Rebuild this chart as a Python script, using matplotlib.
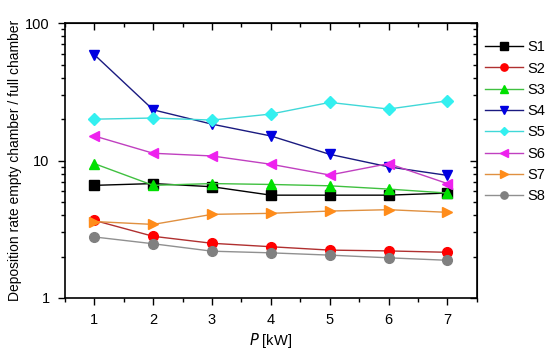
import matplotlib
matplotlib.use('Agg')
import matplotlib.pyplot as plt
from matplotlib.ticker import LogLocator, NullFormatter, MultipleLocator

plt.rcParams['font.family'] = ['Liberation Sans', 'DejaVu Sans']

# 数据：P [kW] 与各组沉积速率比
P = [1, 2, 3, 4, 5, 6, 7]
S1 = [6.6, 6.8, 6.45, 5.6, 5.6, 5.6, 5.8]
S2 = [3.67, 2.81, 2.5, 2.36, 2.23, 2.2, 2.15]
S3 = [9.5, 6.6, 6.8, 6.7, 6.55, 6.2, 5.8]
S4 = [59, 23.4, 18.4, 15.1, 11.1, 9.0, 7.8]
S5 = [20.0, 20.4, 19.7, 21.8, 26.5, 23.7, 27.2]
S6 = [15.1, 11.3, 10.8, 9.4, 7.85, 9.5, 6.8]
S7 = [3.6, 3.43, 4.06, 4.13, 4.29, 4.39, 4.2]
S8 = [2.78, 2.48, 2.19, 2.13, 2.05, 1.96, 1.88]

series = [
    ('S1', S1, 's', '#000000', '#000000'),
    ('S2', S2, 'o', '#ff0000', '#b03030'),
    ('S3', S3, '^', '#00e000', '#40c040'),
    ('S4', S4, 'v', '#0000e0', '#1a1a80'),
    ('S5', S5, 'D', '#33f0f0', '#40d8d8'),
    ('S6', S6, '<', '#ee22ee', '#c040c0'),
    ('S7', S7, '>', '#ff8c1a', '#e09040'),
    ('S8', S8, 'o', '#808080', '#909090'),
]

fig = plt.figure(figsize=(5.5, 3.56), dpi=100)
ax = fig.add_axes([0.118, 0.163, 0.749, 0.772])

for name, vals, mk, mc, lc in series:
    ms = 6 if mk == 'D' else 7
    ax.plot(P, vals, color=lc, marker=mk, markerfacecolor=mc, markeredgecolor=mc,
            markersize=ms, linewidth=1.0, label=name)

ax.set_yscale('log')
ax.set_ylim(1, 100)
ax.set_xlim(0.5, 7.5)
ax.xaxis.set_major_locator(MultipleLocator(1))
ax.xaxis.set_minor_locator(MultipleLocator(0.5))
ax.yaxis.set_minor_locator(LogLocator(base=10, subs=range(2, 10)))
ax.yaxis.set_minor_formatter(NullFormatter())
ax.set_yticks([1, 10, 100])
ax.set_yticklabels(['1', '10', '100'])

ax.tick_params(which='both', direction='out', top=False, right=False, width=1.0, labelsize=10.5)
ax.tick_params(which='major', length=5, pad=6)
ax.tick_params(which='minor', length=3)
ax2 = ax.secondary_xaxis('top')
ax2.xaxis.set_major_locator(MultipleLocator(1))
ax2.xaxis.set_minor_locator(MultipleLocator(0.5))
ax2.tick_params(which='both', direction='in', labeltop=False, width=1.0)
ax2.tick_params(which='major', length=5)
ax2.tick_params(which='minor', length=3)
ax3 = ax.secondary_yaxis('right')
ax3.yaxis.set_minor_locator(LogLocator(base=10, subs=range(2, 10)))
ax3.yaxis.set_minor_formatter(NullFormatter())
ax3.set_yticks([1, 10, 100])
ax3.tick_params(which='both', direction='in', labelright=False, width=1.0)
ax3.tick_params(which='major', length=5)
ax3.tick_params(which='minor', length=3)

for sp in ax.spines.values():
    sp.set_linewidth(1.2)

ax.set_xlabel('$\\it{P}$ [kW]', fontsize=10.5, labelpad=3)
ax.set_ylabel('Deposition rate empty chamber / full chamber', fontsize=10, labelpad=2)

ax.legend(loc='upper left', bbox_to_anchor=(0.995, 0.975), frameon=False, fontsize=10.5,
          handlelength=2.6, labelspacing=0.5, handletextpad=0.3, borderaxespad=0.3,
          markerscale=0.75)

fig.savefig('out.png', dpi=100, facecolor='white')
